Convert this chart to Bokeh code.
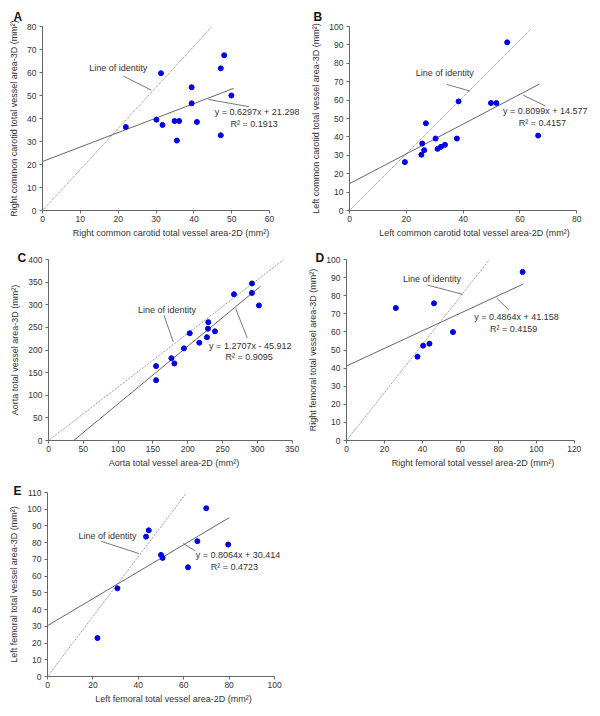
from bokeh.plotting import figure
from bokeh.models import Range1d, FixedTicker, Label
from bokeh.layouts import column, row
from bokeh.embed import file_html
from bokeh.resources import INLINE

# ---------------- data ----------------
# Panel A: right common carotid
a_x = [22.0, 30.1, 31.3, 31.7, 34.9, 35.5, 36.1, 39.4, 39.4, 40.8, 47.1, 48.0, 47.1, 49.9]
a_y = [36.3, 39.5, 59.7, 37.2, 38.9, 30.4, 38.9, 53.6, 46.6, 38.5, 61.8, 67.5, 32.7, 50.0]
a_fit = [0.6297, 21.298]
a_r2 = "0.1913"
a_fit_span = [0.0, 50.5]
a_identity_end = [44.8, 80.0]
a_xticks = [0, 10, 20, 30, 40, 50, 60]
a_yticks = [0, 10, 20, 30, 40, 50, 60, 70, 80]

# Panel B: left common carotid
b_x = [19.5, 25.3, 25.6, 26.3, 26.9, 30.3, 31.0, 32.2, 33.6, 37.8, 38.4, 49.8, 51.7, 55.5, 66.4]
b_y = [26.3, 30.3, 36.4, 32.8, 47.4, 39.1, 33.5, 34.6, 35.7, 39.1, 59.3, 58.4, 58.4, 91.4, 40.7]
b_fit = [0.8099, 14.577]
b_r2 = "0.4157"
b_fit_span = [0.0, 66.8]
b_identity_end = [63.8, 98.5]
b_xticks = [0, 20, 40, 60, 80]
b_yticks = [0, 10, 20, 30, 40, 50, 60, 70, 80, 90, 100]

# Panel C: aorta
c_x = [154.5, 154.5, 176.5, 180.8, 194.6, 202.8, 216.6, 227.6, 229.0, 229.5, 239.1, 266.4, 292.2, 292.2, 302.2]
c_y = [164.5, 133.3, 181.9, 170.3, 203.6, 237.0, 216.0, 228.3, 247.1, 261.6, 241.3, 323.2, 347.1, 326.1, 298.6]
c_fit = [1.2707, -45.912]
c_r2 = "0.9095"
c_fit_span = [36.13, 304.5]
c_identity_end = [338.0, 400.0]
c_xticks = [0, 50, 100, 150, 200, 250, 300, 350]
c_yticks = [0, 50, 100, 150, 200, 250, 300, 350, 400]

# Panel D: right femoral
d_x = [26.0, 37.4, 40.4, 43.7, 46.1, 56.1, 92.8]
d_y = [73.2, 46.3, 52.4, 53.5, 75.8, 59.9, 93.1]
d_fit = [0.4864, 41.158]
d_r2 = "0.4159"
d_fit_span = [0.0, 93.2]
d_identity_end = [75.4, 100.0]
d_xticks = [0, 20, 40, 60, 80, 100, 120]
d_yticks = [0, 10, 20, 30, 40, 50, 60, 70, 80, 90, 100]

# Panel E: left femoral
e_x = [22.0, 30.8, 43.4, 44.6, 50.0, 50.7, 61.9, 66.0, 69.9, 79.6]
e_y = [23.0, 52.7, 83.6, 87.4, 72.7, 70.9, 65.3, 80.9, 100.6, 78.9]
e_fit = [0.8064, 30.414]
e_r2 = "0.4723"
e_fit_span = [0.0, 80.0]
e_identity_end = [61.1, 109.5]
e_xticks = [0, 20, 40, 60, 80, 100]
e_yticks = [0, 10, 20, 30, 40, 50, 60, 70, 80, 90, 100, 110]

FONT = "Liberation Sans"
TXT = "#333333"
LINE = "#555555"
FS = "9px"


def make_panel(letter, xs, ys, fit, r2, span, ident, xticks, yticks, xlabel, ylabel,
               size, borders, x_ext, title_off, title_standoff,
               ident_lbl, ident_lead, eq_pos, r2_pos, eq_lead):
    w, h = size
    bl, br, bt, bb = borders
    p = figure(width=w, height=h, x_range=Range1d(xticks[0], x_ext),
               y_range=Range1d(yticks[0], yticks[-1]),
               output_backend="svg", toolbar_location=None,
               min_border_left=bl, min_border_right=br, min_border_top=bt, min_border_bottom=bb)
    p.outline_line_color = None
    p.grid.visible = False
    p.background_fill_color = "white"
    p.border_fill_color = "white"
    p.xaxis.bounds = (xticks[0], xticks[-1])
    for ax, ticks, lab in ((p.xaxis, xticks, xlabel), (p.yaxis, yticks, ylabel)):
        ax.ticker = FixedTicker(ticks=ticks)
        ax.minor_tick_line_color = None
        ax.major_tick_out = 3
        ax.major_tick_in = 0
        ax.axis_line_color = "#666666"
        ax.major_tick_line_color = "#666666"
        ax.major_label_text_font = FONT
        ax.major_label_text_font_size = "8.5px"
        ax.major_label_text_color = TXT
        ax.axis_label = lab
        ax.axis_label_text_font = FONT
        ax.axis_label_text_font_size = FS
        ax.axis_label_text_font_style = "normal"
        ax.axis_label_text_color = TXT
    p.xaxis.major_label_standoff = 2
    p.xaxis.axis_label_standoff = 3
    p.yaxis.major_label_standoff = 3
    p.yaxis.axis_label_standoff = 5
    # panel letter as title
    p.title.text = letter
    p.title.align = "left"
    p.title.offset = title_off
    p.title.standoff = title_standoff
    p.title.text_font = FONT
    p.title.text_font_size = "12px"
    p.title.text_font_style = "bold"
    p.title.text_color = "#111111"
    # identity line (dotted)
    p.line([0, ident[0]], [0, ident[1]], line_color="#777777", line_width=0.9, line_dash="1 1")
    # regression line
    p.line([span[0], span[1]], [fit[0] * span[0] + fit[1], fit[0] * span[1] + fit[1]],
           line_color=LINE, line_width=0.9)
    # leader lines
    p.segment(x0=[ident_lead[0], eq_lead[0]], y0=[ident_lead[1], eq_lead[1]],
              x1=[ident_lead[2], eq_lead[2]], y1=[ident_lead[3], eq_lead[3]],
              line_color=LINE, line_width=0.8)
    # points
    p.scatter(xs, ys, size=5, fill_color="#0000e6", line_color="#0000e6")
    sign = "+" if fit[1] >= 0 else "-"
    eq = f"y = {fit[0]:.4f}x {sign} {abs(fit[1]):.3f}"
    for (lx, ly), txt in ((ident_lbl, "Line of identity"), (eq_pos, eq), (r2_pos, f"R² = {r2}")):
        p.add_layout(Label(x=lx, y=ly, text=txt, text_font=FONT, text_font_size=FS,
                           text_color=TXT, text_align="center", text_baseline="middle"))
    return p


pA = make_panel("A", a_x, a_y, a_fit, a_r2, a_fit_span, a_identity_end, a_xticks, a_yticks,
                "Right common carotid total vessel area-2D (mm²)",
                "Right common carotid total vessel area-3D (mm²)",
                (300, 240), (42, 1, 26, 29), 67.9, -29, 6,
                (20.0, 62.1), (21.4, 58.4, 28.8, 52.3),
                (56.7, 43.0), (55.9, 37.6), (43.8, 48.3, 54.6, 45.1))

pB = make_panel("B", b_x, b_y, b_fit, b_r2, b_fit_span, b_identity_end, b_xticks, b_yticks,
                "Left common carotid total vessel area-2D (mm²)",
                "Left common carotid total vessel area-3D (mm²)",
                (300, 240), (49, 1, 26, 29), 88.0, -36, 6,
                (33.5, 74.8), (34.3, 68.5, 42.5, 64.9),
                (68.9, 54.2), (67.9, 47.7), (61.1, 62.7, 69.0, 56.8))

pC = make_panel("C", c_x, c_y, c_fit, c_r2, c_fit_span, c_identity_end, c_xticks, c_yticks,
                "Aorta total vessel area-2D (mm²)",
                "Aorta total vessel area-3D (mm²)",
                (300, 230), (48, 1, 19, 27), 360.5, -31, -10,
                (170.2, 287.7), (165.9, 276.8, 179.3, 217.4),
                (289.8, 208.7), (288.3, 184.1), (268.7, 292.0, 285.5, 226.8))

pD = make_panel("D", d_x, d_y, d_fit, d_r2, d_fit_span, d_identity_end, d_xticks, d_yticks,
                "Right femoral total vessel area-2D (mm²)",
                "Right femoral total vessel area-3D (mm²)",
                (300, 230), (46, 1, 19, 27), 133.3, -31, -10,
                (45.0, 89.2), (42.6, 85.9, 61.1, 80.8),
                (89.6, 68.2), (88.0, 61.8), (79.1, 78.7, 85.6, 72.0))

pE = make_panel("E", e_x, e_y, e_fit, e_r2, e_fit_span, e_identity_end, e_xticks, e_yticks,
                "Left femoral total vessel area-2D (mm²)",
                "Left femoral total vessel area-3D (mm²)",
                (300, 246), (47, 1, 22, 40), 111.0, -34, -10,
                (26.4, 84.0), (23.5, 80.9, 40.3, 73.5),
                (83.9, 72.5), (82.3, 65.5), (59.8, 79.5, 65.2, 75.0))

layout = column(row(pA, pB), row(pC, pD), row(pE))
open("out.html", "w").write(file_html(layout, INLINE))
